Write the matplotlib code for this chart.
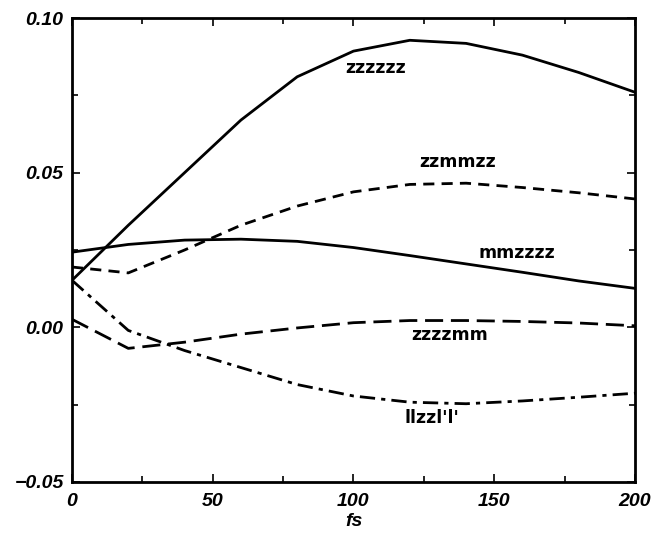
import matplotlib
matplotlib.use("Agg")
import matplotlib.pyplot as plt
from matplotlib.ticker import MultipleLocator

# time axis (fs) and the five curves
t = [0, 20, 40, 60, 80, 100, 120, 140, 160, 180, 200]
zzzzzz = [0.0152, 0.033, 0.050, 0.0670, 0.0810, 0.0893, 0.0928, 0.0918, 0.0880, 0.0824, 0.0760]
mmzzzz = [0.0243, 0.0268, 0.0282, 0.0285, 0.0278, 0.0258, 0.0232, 0.0205, 0.0178, 0.0150, 0.0126]
zzmmzz = [0.0195, 0.0176, 0.0250, 0.0330, 0.0392, 0.0438, 0.0462, 0.0466, 0.0452, 0.0435, 0.0415]
zzzzmm = [0.0026, -0.0068, -0.0048, -0.0022, -0.0002, 0.0015, 0.0022, 0.0022, 0.0019, 0.0014, 0.0005]
llzzll = [0.0152, -0.0010, -0.0075, -0.0130, -0.0185, -0.0222, -0.0242, -0.0247, -0.0238, -0.0226, -0.0213]

labels = ["zzzzzz", "zzmmzz", "mmzzzz", "zzzzmm", "llzzl'l'"]
label_x = [108, 137, 158, 134, 128]
label_y = [0.0837, 0.0533, 0.0239, -0.0026, -0.0294]

fig = plt.figure(figsize=(6.51, 5.33), dpi=100)
ax = fig.add_axes([0.1106, 0.0957, 0.8648, 0.8705])

lw = 2.0
ax.plot(t, zzzzzz, color="black", lw=lw)
ax.plot(t, mmzzzz, color="black", lw=lw)
ax.plot(t, zzmmzz, color="black", lw=lw, dashes=(4, 2.6))
ax.plot(t, zzzzmm, color="black", lw=lw, dashes=(6.5, 2.8))
ax.plot(t, llzzll, color="black", lw=lw, dashes=(5.5, 2.2, 1.5, 2.2))

for s, x, y in zip(labels, label_x, label_y):
    ax.text(x, y, s, ha="center", va="center", fontsize=12.5,
            fontweight="heavy", family="DejaVu Sans")

ax.set_xlim(0, 200)
ax.set_ylim(-0.05, 0.10)
ax.xaxis.set_major_locator(MultipleLocator(50))
ax.xaxis.set_minor_locator(MultipleLocator(25))
ax.yaxis.set_major_locator(MultipleLocator(0.05))
ax.yaxis.set_minor_locator(MultipleLocator(0.025))
ax.tick_params(which="both", direction="in", top=True, right=True, width=1.2)
ax.tick_params(which="major", length=6, pad=6)
ax.tick_params(axis="x", which="major", pad=8)
ax.tick_params(which="minor", length=4)
ax.set_yticks([-0.05, 0.0, 0.05, 0.10])
ax.set_yticklabels(["\u22120.05", "0.00", "0.05", "0.10"])
for lab in ax.get_xticklabels() + ax.get_yticklabels():
    lab.set_fontstyle("italic")
    lab.set_fontweight("bold")
    lab.set_fontsize(14)
    lab.set_family("Liberation Sans")
for sp in ax.spines.values():
    sp.set_linewidth(2)

ax.set_xlabel("fs", fontsize=14, fontstyle="italic", fontweight="bold",
              family="Liberation Sans", labelpad=2)

fig.savefig("out.png", dpi=100)
